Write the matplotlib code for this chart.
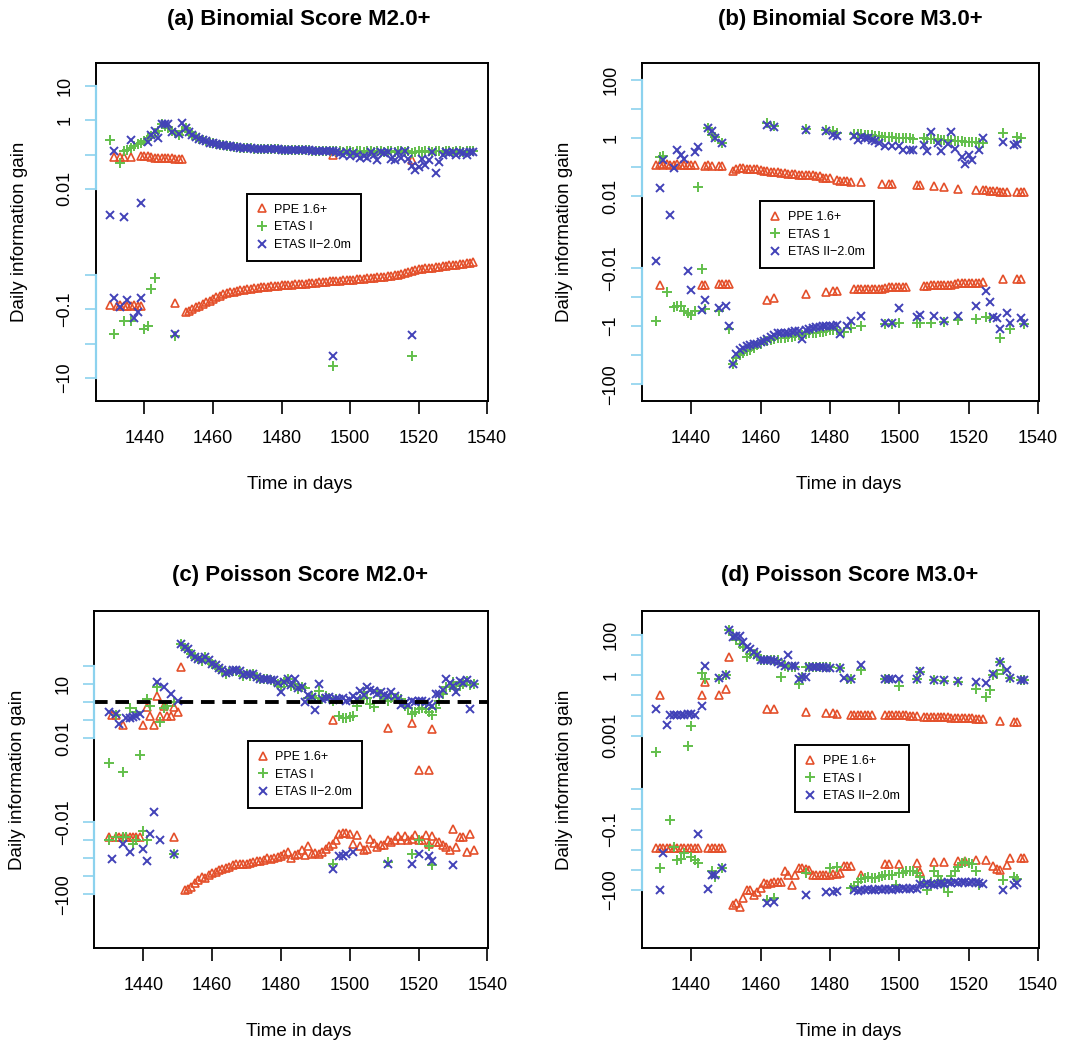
import numpy as np
import matplotlib
matplotlib.use("Agg")
import matplotlib.pyplot as plt

plt.rcParams['font.family'] = ['Liberation Sans', 'DejaVu Sans']

day_ticks = [1440, 1460, 1480, 1500, 1520, 1540]
names_i = ["PPE 1.6+", "ETAS I", "ETAS II\u22122.0m"]
names_1 = ["PPE 1.6+", "ETAS 1", "ETAS II\u22122.0m"]

# Each series: runs of consecutive days -> (first day, [daily information gain, ...])

# ---------------- (a) Binomial Score M2.0+ ----------------
a_ppe = [
    (1431, [0.085]), (1433, [0.085, 0.085]), (1436, [0.085]),
    (1439, [0.09, 0.09, 0.088, 0.085, 0.082, 0.08, 0.078, 0.078, 0.077, 0.077, 0.076, 0.075, 0.074]),
    (1495, [0.1]), (1518, [0.068]),
    (1430, [-0.075]),
    (1432, [-0.08, -0.078, -0.08, -0.082, -0.08, -0.078, -0.08, -0.079]),
    (1449, [-0.067]),
    (1452, [-0.117, -0.112, -0.102, -0.089, -0.079, -0.071, -0.063, -0.056, -0.050, -0.045,
            -0.041, -0.037, -0.034, -0.032, -0.031, -0.029, -0.0275, -0.027, -0.026, -0.025,
            -0.0245, -0.024, -0.0232, -0.0225, -0.022, -0.0215, -0.021, -0.0207, -0.0204, -0.0201,
            -0.0198, -0.0195, -0.0191, -0.0187, -0.0183, -0.018, -0.0176, -0.0172, -0.0168, -0.0165,
            -0.0162, -0.0159, -0.0156, -0.0153, -0.015, -0.0147, -0.0144, -0.0141, -0.0139, -0.0137,
            -0.0135, -0.0132, -0.013, -0.0127, -0.0124, -0.0121, -0.0118, -0.0115, -0.0112, -0.0109,
            -0.0106, -0.0103, -0.01, -0.0097, -0.0095, -0.0093, -0.0091, -0.0089, -0.0087, -0.0086,
            -0.0085, -0.0084, -0.0083, -0.0082, -0.0081, -0.008, -0.0079, -0.0078, -0.0077, -0.0076,
            -0.0075, -0.0074, -0.0073, -0.0072, -0.0071]),
]
a_etas_decay = [0.6, 0.45, 0.37, 0.32, 0.28, 0.26, 0.24, 0.22, 0.21, 0.2,
                0.19, 0.185, 0.18, 0.175, 0.17, 0.165, 0.16, 0.158, 0.155, 0.152,
                0.15, 0.148, 0.146, 0.145, 0.144, 0.143, 0.142, 0.141, 0.14, 0.139,
                0.138, 0.137, 0.136, 0.135, 0.134, 0.133, 0.132, 0.131, 0.13, 0.13,
                0.129, 0.128, 0.127, 0.126]
a_etas1 = [
    (1430, [0.27]), (1433, [0.057]),
    (1434, [0.13, 0.14, 0.16, 0.18, 0.2, 0.21, 0.25, 0.3, 0.35, 0.42, 0.5, 0.75, 0.7, 0.6, 0.5, 0.42, 0.38, 0.5]),
    (1452, a_etas_decay),
    (1496, [0.125, 0.13, 0.12, 0.125, 0.13, 0.12, 0.125, 0.13, 0.12, 0.125,
            0.13, 0.12, 0.125, 0.13, 0.12, 0.125, 0.13, 0.12, 0.125, 0.13,
            0.12, 0.125, 0.11, 0.12, 0.125, 0.12, 0.125, 0.13, 0.12, 0.125,
            0.13, 0.12, 0.125, 0.13, 0.12, 0.125, 0.13, 0.12, 0.125, 0.13, 0.125]),
    (1431, [-0.54]), (1434, [-0.22]), (1436, [-0.22]),
    (1440, [-0.38, -0.3, -0.025, -0.012]), (1449, [-0.6]), (1495, [-4.5]), (1518, [-2.3]),
]
a_etas2 = [
    (1430, [0.004, 0.13]), (1434, [0.0035]), (1436, [0.26]), (1439, [0.0068]),
    (1441, [0.23, 0.38, 0.5, 0.3, 0.8, 0.75, 0.8, 0.45]), (1450, [0.4, 0.85]),
    (1452, a_etas_decay),
    (1496, [0.12, 0.11, 0.1, 0.12, 0.09, 0.11, 0.1, 0.08, 0.09, 0.08,
            0.12, 0.1, 0.07, 0.12, 0.11, 0.12, 0.076, 0.07, 0.12, 0.08,
            0.13, 0.076, 0.045, 0.035, 0.044, 0.076, 0.05, 0.07, 0.12, 0.029,
            0.061, 0.1, 0.12, 0.11, 0.12, 0.1, 0.12, 0.11, 0.1, 0.12, 0.12]),
    (1431, [-0.046]), (1433, [-0.085]), (1435, [-0.054]),
    (1437, [-0.18, -0.12, -0.046]), (1449, [-0.54]), (1495, [-2.3]), (1518, [-0.56]),
]

# ---------------- (b) Binomial Score M3.0+ ----------------
b_ppe = [
    (1430, [0.12, 0.125, 0.12, 0.125, 0.12, 0.12, 0.125, 0.12, 0.12, 0.115, 0.12, 0.115]),
    (1444, [0.11, 0.115, 0.11]), (1448, [0.11, 0.11]),
    (1452, [0.072, 0.09, 0.095, 0.095, 0.09, 0.09, 0.088, 0.085, 0.08]),
    (1461, [0.075, 0.072, 0.07, 0.068, 0.066, 0.064, 0.062, 0.06, 0.058, 0.057,
            0.056, 0.055, 0.054, 0.053, 0.052, 0.051, 0.05, 0.044, 0.043, 0.042]),
    (1482, [0.035, 0.034, 0.033, 0.033, 0.032]), (1489, [0.031]),
    (1495, [0.026]), (1497, [0.026, 0.026]), (1505, [0.025, 0.025]), (1510, [0.022]),
    (1513, [0.021]), (1517, [0.018]), (1522, [0.017]),
    (1524, [0.016, 0.016, 0.0155, 0.015, 0.015, 0.0145, 0.014, 0.014]),
    (1534, [0.014, 0.0135, 0.0135]),
    (1431, [-0.04]), (1443, [-0.04, -0.04]), (1448, [-0.036, -0.036, -0.036, -0.036]),
    (1462, [-0.125]), (1464, [-0.11]), (1473, [-0.08]), (1479, [-0.07]), (1481, [-0.065, -0.065]),
    (1487, [-0.055, -0.054, -0.054, -0.053, -0.053, -0.053, -0.052, -0.052, -0.052, -0.051]),
    (1497, [-0.047, -0.047, -0.046, -0.046, -0.046, -0.045]),
    (1507, [-0.041, -0.041, -0.04, -0.04, -0.04, -0.039, -0.039, -0.038, -0.038, -0.037]),
    (1517, [-0.034, -0.033, -0.033, -0.033, -0.032, -0.032, -0.032, -0.031]),
    (1530, [-0.025]), (1534, [-0.024, -0.024]),
]
b_etas1 = [
    (1431, [0.23, 0.25]), (1442, [0.021]), (1445, [2.2, 1.3, 1.1]), (1449, [0.67]),
    (1462, [3.3]), (1464, [2.6]), (1473, [2.0]), (1479, [1.9]), (1481, [1.7, 1.5]),
    (1487, [1.4, 1.4, 1.35, 1.3, 1.3, 1.25, 1.2, 1.15, 1.1, 1.1, 1.05, 1.05, 1.0, 1.0, 1.0, 0.98, 0.97, 0.96]),
    (1507, [1.0, 0.95, 0.95, 0.9, 0.9, 0.88, 0.85, 0.85, 0.83, 0.8, 0.8, 0.78, 0.76, 0.75, 0.73, 0.72, 0.7, 0.7]),
    (1530, [1.5]), (1534, [1.1, 1.0]),
    (1430, [-0.66]), (1433, [-0.067]),
    (1435, [-0.22, -0.21, -0.21, -0.31, -0.35, -0.41, -0.31]),
    (1443, [-0.011, -0.27]), (1448, [-0.31]), (1451, [-1.3]),
    (1452, [-19.5, -13, -10, -8.5, -7.5, -6.5, -5.5, -4.5, -4.0, -3.4,
            -3.2, -3.0, -2.8, -2.6, -2.5, -2.5, -2.4, -2.3, -2.2, -2.1,
            -2.0, -1.9, -1.8, -1.8, -1.7, -1.6, -1.6, -1.5, -1.4, -1.35, -1.35]),
    (1484, [-1.6]), (1486, [-1.2]), (1489, [-1.0]),
    (1496, [-0.86]), (1498, [-0.85]), (1500, [-0.8]), (1505, [-0.8, -0.78]), (1509, [-0.76]),
    (1513, [-0.73]), (1517, [-0.62]), (1522, [-0.58]), (1525, [-0.5, -0.52]),
    (1529, [-2.5]), (1532, [-1.3]), (1536, [-0.87]),
]
b_etas2 = [
    (1431, [0.02, 0.17]), (1434, [0.0049, 0.094, 0.4, 0.27, 0.19]), (1441, [0.32, 0.49]),
    (1445, [2.2, 1.7, 1.0]), (1449, [0.67]), (1462, [2.9]), (1464, [2.5]), (1473, [1.9]),
    (1479, [1.7]), (1481, [1.3, 1.2]),
    (1487, [1.2, 0.88, 1.1, 1.0, 1.0, 0.88, 0.77, 0.67]),
    (1496, [0.55]), (1498, [0.55]), (1500, [0.55, 0.4]), (1503, [0.38, 0.38]),
    (1507, [0.59, 0.35, 1.6]), (1511, [0.67, 0.35]), (1514, [0.64, 1.6, 0.42]),
    (1518, [0.23, 0.13, 0.27, 0.18]), (1523, [0.38, 1.0]), (1530, [0.73]), (1533, [0.59, 0.64]),
    (1430, [-0.008]), (1439, [-0.013, -0.059]), (1443, [-0.29, -0.125]), (1448, [-0.24]),
    (1450, [-0.2, -1.0]),
    (1452, [-19.5, -9, -6.5, -5.8, -5.0, -4.5, -4.2, -4.1, -3.6, -3.4,
            -2.8, -2.3, -2.0, -1.8, -1.7, -1.75, -1.8, -1.6, -1.5, -1.45,
            -2.8, -1.4, -1.3, -1.2, -1.1, -1.05, -1.0, -1.0, -1.0, -1.0, -0.9, -1.9]),
    (1485, [-1.0, -0.7]), (1489, [-0.45]), (1496, [-0.76]), (1498, [-0.78]), (1500, [-0.24]),
    (1505, [-0.5, -0.41]), (1510, [-0.47]), (1513, [-0.66]), (1517, [-0.45]), (1522, [-0.2]),
    (1525, [-0.064, -0.15, -0.5, -0.53, -1.3]), (1531, [-0.36, -0.76]), (1535, [-0.53, -0.76]),
]

# ---------------- (c) Poisson Score M2.0+ ----------------
c_ppe = [
    (1431, [0.2, 0.2]), (1434, [0.052]),
    (1440, [0.052, 0.57, 0.17, 0.052, 2.25, 0.17, 0.62, 0.17, 0.17, 0.57, 0.27, 86]),
    (1495, [0.1]), (1511, [0.039]), (1518, [0.067]), (1520, [0.0024]), (1523, [0.0024, 0.031]),
    (1430, [-0.067]), (1432, [-0.067, -0.067, -0.067, -0.067, -0.067, -0.067, -0.067, -0.067]),
    (1449, [-0.067]),
    (1452, [-58, -50, -41, -25, -16, -10.7, -13, -9, -6.4, -5.5,
            -4.6, -4.0, -3.7, -3.0, -2.4, -2.2, -2.0, -2.0, -2.1, -1.8,
            -1.6, -1.5, -1.4, -1.2, -1.0, -1.1, -1.0, -0.9, -0.78, -0.6,
            -0.45, -1.0, -0.7, -0.55, -0.36, -0.68, -0.22, -0.55, -0.5, -0.55,
            -0.45, -0.3, -0.22, -0.16, -0.1, -0.044, -0.04, -0.042, -0.044, -0.16,
            -0.054, -0.2, -0.36, -0.3, -0.083, -0.15, -0.24, -0.19, -0.19, -0.1,
            -0.12, -0.1, -0.06, -0.1, -0.06, -0.1, -0.08, -0.054, -0.1, -0.1,
            -0.054, -0.16, -0.06, -0.13, -0.13, -0.19, -0.25, -0.36, -0.023, -0.24,
            -0.067, -0.067, -0.45, -0.047, -0.33]),
]
c_etas1 = [
    (1430, [0.004]), (1432, [0.2]), (1434, [0.0019]), (1436, [0.5]), (1438, [0.27, 0.0061]),
    (1441, [1.5, 0.62]), (1444, [7.2, 0.083, 0.5, 0.62]), (1449, [1.0]),
    (1451, [1700, 1030, 800, 480, 310, 250, 200, 310, 200, 130,
            106, 70, 56, 36, 45, 56, 56, 50, 30, 36,
            30, 36, 24, 19, 19, 19, 17, 15.5, 10, 6.6,
            12.5, 19, 8.2, 10, 5.3, 6.6, 6, 1.8, 2.3, 1.8,
            4.3, 1.5, 2.3, 1.8, 1.2, 1.5, 0.17, 0.14, 0.14, 0.15,
            0.17, 0.62, 1.5, 3.5, 1.8, 0.77, 0.55, 3.5, 2.8, 1.5,
            1.2, 1.8, 1.8, 1.6, 1.5, 0.62, 0.5, 0.21, 0.3, 0.4,
            0.5, 0.4, 0.3, 0.2, 0.5, 1.2, 3, 6.6, 6.6, 12.5,
            5.3, 8, 10, 15, 9.3, 10]),
    (1430, [-0.1]), (1432, [-0.067]), (1434, [-0.067, -0.067]), (1437, [-0.16, -0.1]),
    (1440, [-0.029, -0.1]), (1449, [-0.6]), (1495, [-2.1]), (1511, [-1.6]), (1518, [-0.55]),
    (1520, [-0.1]), (1523, [-0.22, -2.4]),
]
c_etas2 = [
    (1430, [0.27]), (1432, [0.21, 0.059]), (1435, [0.14, 0.14, 0.16, 0.18, 0.21]),
    (1444, [12.5]), (1446, [6.6]), (1448, [3.0]), (1450, [1.2]),
    (1451, [1800, 1100, 850, 500, 330, 260, 210, 320, 210, 140,
            110, 75, 60, 40, 45, 60, 58, 52, 32, 38,
            32, 38, 26, 20, 20, 20, 18, 16, 11, 3.5,
            13, 19, 9, 19, 6, 7, 1.0, 2.5, 2, 0.36,
            10, 1.6, 1.7, 2, 1.3, 1.6, 1.5, 1.8, 1.2, 1.4,
            2.3, 1.5, 4.3, 2.5, 6.6, 5, 4, 3, 3.5, 2.5,
            2.3, 3.5, 2.3, 1.5, 0.7, 0.9, 0.7, 1.2, 1.0, 1.2,
            1.2, 1.0, 0.8, 0.62, 2.8, 2.8, 5, 19, 12, 8,
            3.5, 15, 12, 17, 0.4, 10]),
    (1431, [-1.05]), (1434, [-0.16]), (1436, [-0.45]), (1440, [-0.29, -1.5, -0.047, -0.0075]),
    (1445, [-0.1]), (1449, [-0.55]), (1495, [-4.2]), (1497, [-0.78, -0.78, -0.6]), (1501, [-0.45]),
    (1511, [-2.1]), (1518, [-2.1]), (1520, [-0.6]), (1523, [-0.78, -1.5]), (1530, [-2.4]),
]

# ---------------- (d) Poisson Score M3.0+ ----------------
d_ppe = [
    (1431, [0.11]), (1443, [0.11, 0.47]), (1448, [0.11]), (1450, [0.22, 8.1]),
    (1462, [0.02]), (1464, [0.02]), (1473, [0.015]), (1479, [0.013]), (1481, [0.013, 0.012]),
    (1486, [0.011, 0.011, 0.0108, 0.0108, 0.0106, 0.0105, 0.0105]),
    (1496, [0.0104, 0.0104, 0.0103, 0.0103, 0.0102, 0.0102, 0.0101, 0.01, 0.01, 0.0098]),
    (1507, [0.0088, 0.0087, 0.0086, 0.0085, 0.0084, 0.0082, 0.0081, 0.008, 0.0079, 0.0078,
            0.0077, 0.0076, 0.0075, 0.0074, 0.0072, 0.007, 0.0068, 0.0065]),
    (1529, [0.0055]), (1533, [0.005, 0.005]),
    (1430, [-0.85, -0.85, -0.84, -0.85, -0.86, -0.85, -0.85, -0.84, -0.85, -0.85, -0.86, -0.85, -0.85]),
    (1445, [-0.85, -0.85, -0.84, -0.85, -0.85]),
    (1452, [-550, -450, -680, -260, -100, -100, -180, -120, -83, -47,
            -50, -47, -40, -40, -42, -11, -18, -56, -18, -8.3,
            -8.3, -9, -10, -18, -18, -18, -18, -18, -18, -17,
            -16, -15, -6.5, -6.5, -6.5]),
    (1489, [-18]), (1496, [-5.1, -5.1]), (1500, [-5.1]), (1505, [-4.8, -12.3]), (1510, [-3.9]),
    (1513, [-3.9]), (1517, [-3.5]), (1519, [-3.5]), (1522, [-3.2]), (1525, [-3.2]),
    (1527, [-6.5, -9.4, -10]), (1531, [-5.7, -2.5]), (1535, [-2.7, -2.7]),
]
d_etas1 = [
    (1430, [0.0004]), (1439, [0.0006, 0.003]), (1443, [1.3, 0.68]), (1448, [0.68]), (1450, [1.0]),
    (1451, [170, 100, 55, 37, 25, 8, 12, 12, 10, 5.5, 5.5, 5.5, 5.5, 5.5, 5.5, 0.83,
            2.8, 2.6, 2.6, 2.6, 0.39, 0.83, 2.6, 2.6, 2.6, 2.6, 2.5, 2.5, 2.5, 2.5]),
    (1483, [2.4]), (1485, [0.68, 0.68]), (1489, [1.8]), (1496, [0.68, 0.68]), (1500, [0.28]),
    (1505, [0.68, 1.4]), (1510, [0.56]), (1513, [0.52]), (1517, [0.47]), (1522, [0.22]),
    (1525, [0.084, 0.18, 1.0, 1.2, 4.6, 1.8]), (1532, [0.77]), (1535, [0.6, 0.6]),
    (1431, [-8.3]), (1434, [-0.033]), (1435, [-0.71, -3.2, -2.8, -1.5]), (1440, [-2.2, -3.2, -4.7]),
    (1446, [-12, -22]), (1449, [-8.3]), (1462, [-300]), (1464, [-260]), (1473, [-15]),
    (1480, [-8.3]), (1482, [-7]),
    (1486, [-83, -60, -39, -30, -26, -22, -24, -26, -22, -20,
            -18, -18, -18, -56, -15, -15, -12, -12, -11, -15,
            -22, -39, -100, -40, -12, -20, -32, -60, -120, -20,
            -12, -6.9, -4.7, -3.9, -4.5, -5.1, -12, -56]),
    (1530, [-32]), (1533, [-22, -30]),
]
d_etas2 = [
    (1430, [0.022]), (1433, [0.0033]),
    (1434, [0.0104, 0.0104, 0.0104, 0.011, 0.011, 0.0125, 0.0125, 0.011]),
    (1443, [0.03, 2.8]), (1448, [0.77]), (1450, [1.0]),
    (1451, [170, 80, 90, 85, 45, 25, 21, 14, 10, 5.5, 5.5, 5.5, 5.5, 5.0, 4.5,
            3.5, 2.8, 9.8, 2.8, 2.8, 0.68, 0.83, 0.83, 2.6, 2.6, 2.6, 2.6, 2.6, 2.4, 2.4]),
    (1483, [2.4, 0.77]), (1486, [0.68]), (1489, [3.1]), (1496, [0.68, 0.68]), (1498, [0.68]),
    (1500, [0.68]), (1505, [0.68, 1.6]), (1510, [0.56]), (1513, [0.56]), (1517, [0.52]),
    (1522, [0.47]), (1525, [0.42]), (1527, [1.2]), (1529, [4.6]), (1531, [1.8, 0.77]),
    (1535, [0.6, 0.6]),
    (1431, [-95, -1.5]), (1442, [-0.16]), (1445, [-85, -18, -18]), (1449, [-8.3]),
    (1462, [-460]), (1464, [-380]), (1473, [-180]), (1479, [-130]), (1481, [-130, -110]),
    (1487, [-100, -110, -95, -100, -90, -95, -100, -90, -95, -85,
            -90, -95, -85, -90, -80, -85, -90, -80, -85]),
    (1506, [-50, -55, -45, -50, -55, -48, -45, -50, -42, -45,
            -40, -45, -42, -40, -45, -40, -42, -45, -50]),
    (1530, [-100]), (1533, [-56, -47]),
]

# y tick values and their labels (R drops labels that would overlap)
a_yticks = [10, 1, 0.1, 0.01, -0.01, -0.1, -1, -10]
a_ylabels = ["10", "1", "", "0.01", "", "\u22120.1", "", "\u221210"]
b_yticks = [100, 10, 1, 0.1, 0.01, -0.01, -0.1, -1, -10, -100]
b_ylabels = ["100", "", "1", "", "0.01", "\u22120.01", "", "\u22121", "", "\u2212100"]
c_yticks = [100, 10, 1, 0.1, 0.01, -0.01, -0.1, -1, -10, -100]
c_ylabels = ["", "10", "", "", "0.01", "\u22120.01", "", "", "", "\u2212100"]
d_yticks = [100, 10, 1, 0.1, 0.01, 0.001, -0.001, -0.01, -0.1, -1, -10, -100]
d_ylabels = ["100", "", "1", "", "", "0.001", "", "", "\u22120.1", "", "", "\u2212100"]

COLORS = ["#E4502B", "#62BF4B", "#4242B8"]
SKY = "#8CD2EE"


def expand(runs):
    days, vals = [], []
    for start, values in runs:
        for i, v in enumerate(values):
            days.append(start + i)
            vals.append(v)
    return np.array(days), np.array(vals)


def split_log(pmin, nmin, gap):
    """Log axis for positive values above a gap, mirrored log for negatives below."""
    lp, ln = np.log10(pmin), np.log10(nmin)
    base = lp - gap

    def fwd(v):
        v = np.asarray(v, dtype=float)
        with np.errstate(all='ignore'):
            hi = np.log10(np.where(v >= pmin, v, pmin))
            lo = base - (np.log10(np.where(v <= -nmin, -v, nmin)) - ln)
            mid = base + (v + nmin) / (pmin + nmin) * gap
        return np.where(v >= pmin, hi, np.where(v <= -nmin, lo, mid))

    def inv(y):
        y = np.asarray(y, dtype=float)
        with np.errstate(all='ignore'):
            hi = 10.0 ** y
            lo = -10.0 ** (ln + base - y)
            mid = -nmin + (y - base) / gap * (pmin + nmin)
        return np.where(y >= lp, hi, np.where(y <= base, lo, mid))

    return fwd, inv


panels = [
    dict(rect=[0.0889, 0.6162, 0.3646, 0.3237], title="(a) Binomial Score M2.0+", tpos=(299, 20),
         data=[a_ppe, a_etas1, a_etas2], names=names_i, pmin=0.01, nmin=0.01, gap=2.5,
         ylim=(-46, 47), yticks=a_yticks, ylabels=a_ylabels, sky=[(10, 0.01), (-0.01, -10)],
         legend=(0.385, 0.612), dashed=False),
    dict(rect=[0.5964, 0.6162, 0.3692, 0.3237], title="(b) Binomial Score M3.0+", tpos=(850, 20),
         data=[b_ppe, b_etas1, b_etas2], names=names_1, pmin=0.01, nmin=0.01, gap=2.46,
         ylim=(-370, 390), yticks=b_yticks, ylabels=b_ylabels, sky=[(100, 0.01), (-0.01, -100)],
         legend=(0.298, 0.591), dashed=False),
    dict(rect=[0.0876, 0.0917, 0.3662, 0.3233], title="(c) Poisson Score M2.0+", tpos=(300, 576),
         data=[c_ppe, c_etas1, c_etas2], names=names_i, pmin=0.01, nmin=0.01, gap=4.67,
         ylim=(-1.0e5, 1.2e5), yticks=c_yticks, ylabels=c_ylabels, sky=[(100, 0.01), (-0.01, -100)],
         legend=(0.39, 0.614), dashed=True),
    dict(rect=[0.5964, 0.0917, 0.3692, 0.3233], title="(d) Poisson Score M3.0+", tpos=(850, 576),
         data=[d_ppe, d_etas1, d_etas2], names=names_i, pmin=0.001, nmin=0.001, gap=2.67,
         ylim=(-7.9e4, 1620), yticks=d_yticks, ylabels=d_ylabels, sky=[(100, 0.001), (-0.001, -100)],
         legend=(0.386, 0.602), dashed=False),
]

W, H = 1076, 1044
fig = plt.figure(figsize=(W / 100, H / 100), dpi=100)

markers = [dict(marker='^', ms=6.2, mfc='none', mew=1.2),
           dict(marker='+', ms=7, mew=1.4),
           dict(marker='x', ms=5.5, mew=1.4)]

for p in panels:
    ax = fig.add_axes(p['rect'])
    ax.set_yscale('function', functions=split_log(p['pmin'], p['nmin'], p['gap']))

    for runs, name, color, mk in zip(p['data'], p['names'], COLORS, markers):
        days, vals = expand(runs)
        ax.plot(days, vals, linestyle='none', color=color, label=name, **mk)

    if p['dashed']:
        ax.axhline(1, color='black', lw=2.8, ls=(0, (3.5, 2)), zorder=6)

    ax.set_xlim(1425.76, 1540.24)
    ax.set_ylim(*p['ylim'])
    ax.set_xticks(day_ticks)
    ax.set_yticks(p['yticks'], p['ylabels'])
    ax.yaxis.set_minor_locator(plt.NullLocator())
    ax.xaxis.set_minor_locator(plt.NullLocator())
    for lbl in ax.get_yticklabels():
        lbl.set_rotation(90)
        lbl.set_va('center')
    ax.tick_params(axis='x', length=9, width=1.2, pad=12, labelsize=13)
    ax.tick_params(axis='y', length=8, width=1.2, pad=8, labelsize=13,
                   color=SKY, labelcolor='black')
    for s in ax.spines.values():
        s.set_linewidth(1.4)

    # light blue axis segments over the tick ranges
    for top, bottom in p['sky']:
        ax.plot([0, 0], [top, bottom], transform=ax.get_yaxis_transform(),
                color=SKY, lw=1.6, clip_on=False, zorder=7)

    ax.set_xlabel("Time in days", fontsize=13.5)
    ax.xaxis.set_label_coords(0.52, -0.222)
    ax.set_ylabel("Daily information gain", fontsize=13.5)
    ax.yaxis.set_label_coords(-0.172, 0.5)

    leg = ax.legend(loc='upper left', bbox_to_anchor=p['legend'], fontsize=9,
                    handlelength=0.8, handletextpad=0.6, borderpad=0.8,
                    labelspacing=0.45, borderaxespad=0, fancybox=False,
                    framealpha=1, edgecolor='black')
    leg.get_frame().set_linewidth(1.4)

    fig.text(p['tpos'][0] / W, 1 - p['tpos'][1] / H, p['title'], ha='center', va='center',
             fontsize=16, fontweight='bold')

fig.savefig("out.png", dpi=100)
